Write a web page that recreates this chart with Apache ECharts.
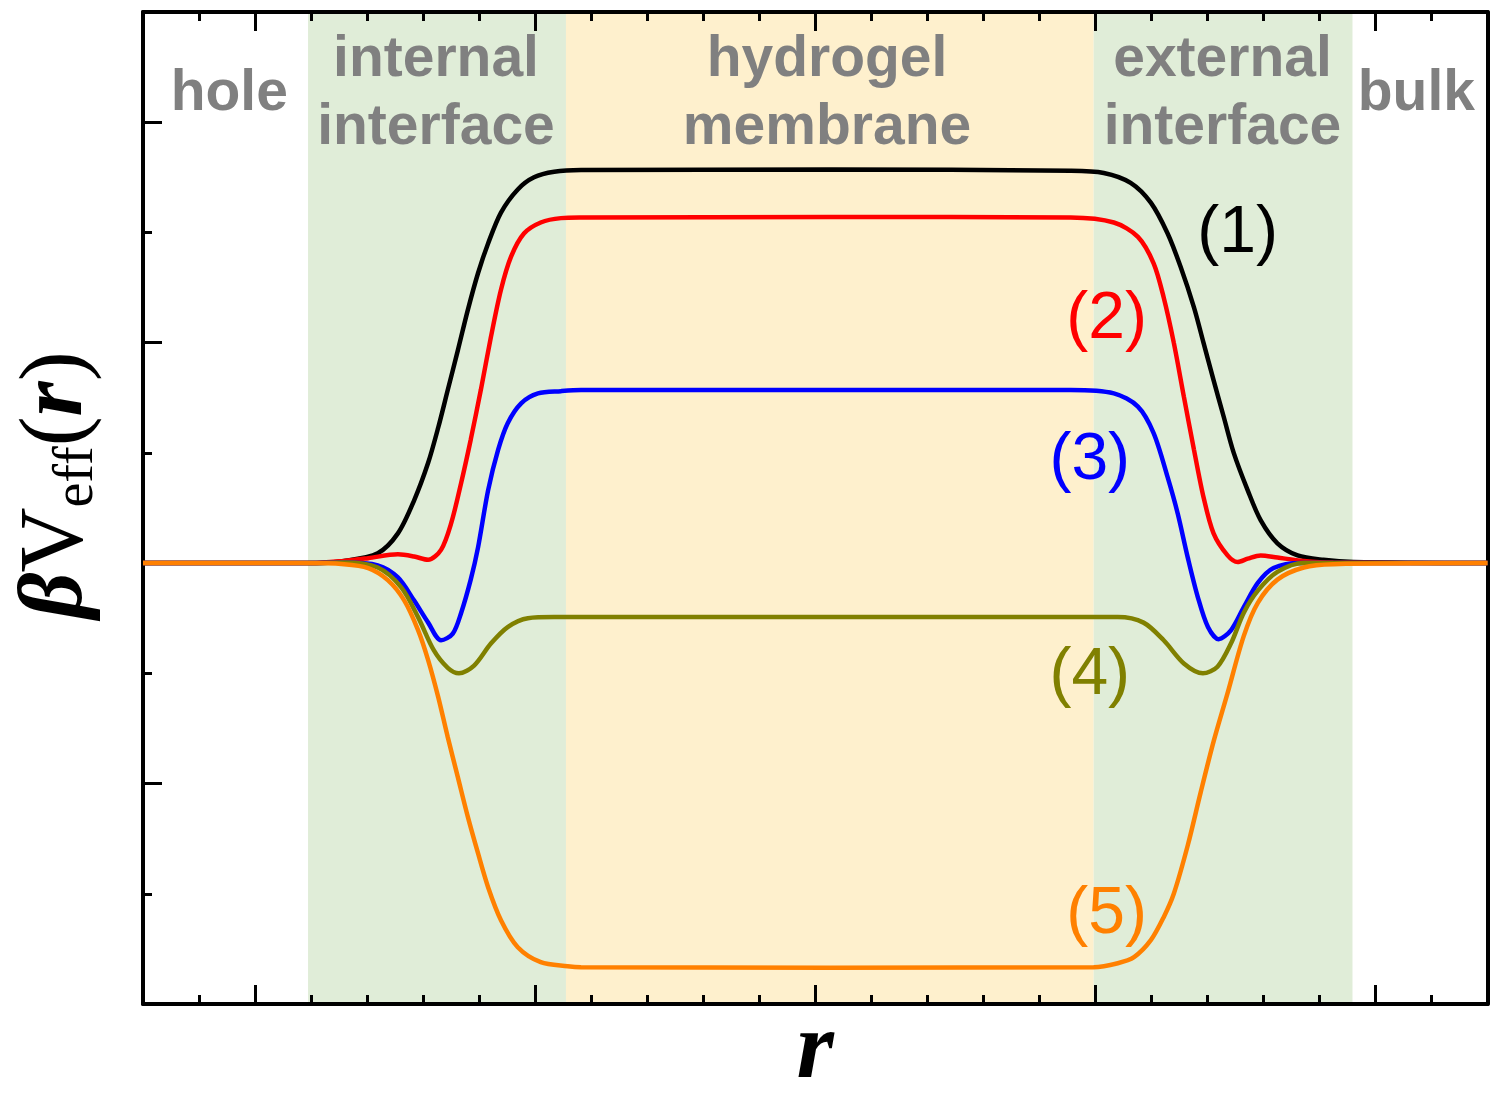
<!DOCTYPE html>
<html>
<head>
<meta charset="utf-8">
<script src="https://cdn.jsdelivr.net/npm/echarts@6/dist/echarts.min.js"></script>
<style>html,body{margin:0;padding:0;background:#fff}#c{width:1500px;height:1093px}</style>
</head>
<body>
<div id="c"></div>
<script>
// ---- data (x in minor-tick units of r, y in units of the left minor tick) ----
const curve1 = [[-2,0],[1.0,0],[1.59,0.02],[2.19,0.09],[2.55,0.27],[2.84,0.57],[3.09,0.91],[3.27,1.23],[3.44,1.57],[3.62,1.93],[3.80,2.30],[3.98,2.63],[4.16,2.90],[4.39,3.18],[4.69,3.39],[4.98,3.50],[5.34,3.55],[5.82,3.566],[10.28,3.57],[14.56,3.56],[15.15,3.54],[15.63,3.45],[15.99,3.27],[16.29,2.99],[16.52,2.69],[16.76,2.32],[16.93,2.00],[17.11,1.66],[17.29,1.33],[17.47,1.00],[17.72,0.66],[17.95,0.39],[18.25,0.18],[18.61,0.07],[19.07,0.03],[19.61,0.01],[22,0]];
const curve2 = [[-2,0],[1.0,0],[1.59,0.02],[2.02,0.045],[2.55,0.08],[2.84,0.06],[3.09,0.03],[3.32,0.12],[3.50,0.36],[3.68,0.73],[3.85,1.12],[4.03,1.57],[4.21,2.05],[4.39,2.48],[4.57,2.78],[4.80,2.99],[5.10,3.09],[5.46,3.13],[5.82,3.135],[10.28,3.14],[14.56,3.135],[15.33,3.09],[15.76,2.96],[16.04,2.72],[16.22,2.41],[16.40,2.00],[16.58,1.51],[16.76,1.03],[16.93,0.60],[17.11,0.27],[17.36,0.07],[17.54,0.01],[17.72,0.04],[17.95,0.07],[18.25,0.05],[18.72,0.02],[19.25,0.005],[22,0]];
const curve3 = [[-2,0],[1.0,0],[1.59,0.005],[2.19,-0.02],[2.55,-0.13],[2.84,-0.34],[3.09,-0.54],[3.32,-0.70],[3.53,-0.64],[3.68,-0.45],[3.85,-0.15],[3.98,0.14],[4.16,0.66],[4.34,1.03],[4.51,1.27],[4.75,1.45],[5.05,1.54],[5.46,1.56],[5.82,1.57],[10.28,1.57],[14.56,1.57],[15.33,1.54],[15.76,1.42],[16.04,1.18],[16.29,0.78],[16.47,0.45],[16.65,0.05],[16.83,-0.31],[17.01,-0.58],[17.20,-0.69],[17.42,-0.61],[17.65,-0.40],[17.90,-0.18],[18.18,-0.045],[18.67,0],[22,0]];
const curve4 = [[-2,0],[1.0,0],[1.59,0.005],[2.19,-0.04],[2.61,-0.22],[2.91,-0.49],[3.19,-0.79],[3.44,-0.95],[3.64,-1.00],[3.91,-0.93],[4.21,-0.73],[4.51,-0.58],[4.87,-0.50],[5.34,-0.49],[5.82,-0.49],[10.28,-0.49],[14.20,-0.49],[15.40,-0.49],[15.86,-0.54],[16.22,-0.70],[16.58,-0.91],[16.92,-1.00],[17.18,-0.94],[17.42,-0.73],[17.65,-0.45],[17.90,-0.25],[18.25,-0.08],[18.72,0],[22,0]];
const curve5 = [[-2,0],[0.82,0],[1.59,-0.01],[2.02,-0.045],[2.37,-0.154],[2.66,-0.336],[2.91,-0.608],[3.09,-0.880],[3.27,-1.216],[3.44,-1.579],[3.62,-1.942],[3.80,-2.305],[3.98,-2.632],[4.16,-2.940],[4.39,-3.240],[4.69,-3.485],[5.10,-3.621],[5.58,-3.657],[5.82,-3.666],[10.28,-3.67],[14.97,-3.666],[15.40,-3.630],[15.69,-3.575],[15.99,-3.421],[16.22,-3.212],[16.40,-3.0],[16.65,-2.56],[16.88,-2.08],[17.11,-1.62],[17.36,-1.18],[17.65,-0.66],[17.90,-0.36],[18.25,-0.15],[18.72,-0.04],[19.25,-0.01],[22,0]];

const curveNames = ['(1)','(2)','(3)','(4)','(5)'];
const curveLabelPos = [[17.54,2.99],[15.20,2.21],[14.90,0.93],[14.90,-1.02],[15.20,-3.19]];
const regionNames = ['hole','internal\ninterface','hydrogel\nmembrane','external\ninterface','bulk'];
const regionLabelX = [-0.46,3.23,10.21,17.27,20.73];
const regionLabelY = 4.25;
const bandEdges = [0.946,5.55,14.97,19.59];
const xRange = [-2,22];
const yRange = [-4,5];
const xMajorTicks = [0,5,10,15,20];
const yMajorTicks = [-2,0,2,4];
const yMinorTicks = [-3,-1,1,3];

// ---- styles ----
const curveColors = ['#000000','#ff0000','#0000ff','#808000','#ff8000'];
const green = '#e0edd8', yellow = '#fef0cd';
const curves = [curve1,curve2,curve3,curve4,curve5];

const chart = echarts.init(document.getElementById('c'), null, {renderer:'canvas'});

function xAx(pos, major, show){
  const o = {type:'value', min:xRange[0], max:xRange[1], position:pos, z:2,
    axisLine:{show:show, onZero:false, lineStyle:{color:'#000', width:4}},
    axisTick:{show:true, inside:true, length: major?19:9, lineStyle:{color:'#000', width:3}},
    axisLabel:{show:false}, splitLine:{show:false}};
  if (major) o.axisTick.customValues = xMajorTicks; else o.interval = 1;
  return o;
}
const xAxes = [xAx('bottom',true,true), xAx('bottom',false,false), xAx('top',true,true), xAx('top',false,false)];
xAxes[0].name = 'r';
xAxes[0].nameLocation = 'middle';
xAxes[0].nameGap = 0;
xAxes[0].nameTextStyle = {fontFamily:'Liberation Serif', fontStyle:'italic', fontWeight:'bold', fontSize:96, lineHeight:96, color:'#000'};

function yAx(pos, ticks, len, showLine){
  return {type:'value', min:yRange[0], max:yRange[1], position:pos, z:2,
    axisLine:{show:showLine, onZero:false, lineStyle:{color:'#000', width:4}},
    axisTick:{show: ticks!==null, inside:true, length:len, customValues: ticks||undefined, lineStyle:{color:'#000', width:3}},
    axisLabel:{show:false}, splitLine:{show:false}};
}
const yAxes = [yAx('left', yMajorTicks, 19, true), yAx('left', yMinorTicks, 9, false), yAx('right', null, 0, true)];
yAxes[0].name = '{b|β}{v|V}{s|eff}{p|(}{r|r}{p|)}';
yAxes[0].nameLocation = 'middle';
yAxes[0].nameRotate = 90;
yAxes[0].nameGap = 38;
yAxes[0].nameTextStyle = {
  padding:[0,0,0,46],
  rich:{
    b:{fontFamily:'Liberation Serif', fontStyle:'italic', fontWeight:'bold', fontSize:90, lineHeight:94, color:'#000'},
    v:{fontFamily:'Liberation Serif', fontSize:90, lineHeight:94, color:'#000'},
    s:{fontFamily:'Liberation Serif', fontSize:56, lineHeight:34, verticalAlign:'bottom', color:'#000'},
    p:{fontFamily:'Liberation Serif', fontSize:90, lineHeight:94, color:'#000'},
    r:{fontFamily:'Liberation Serif', fontStyle:'italic', fontWeight:'bold', fontSize:90, lineHeight:94, color:'#000'}
  }
};

const series = [];
// background bands
series.push({type:'line', data:[], silent:true, z:0,
  markArea:{silent:true, z:1, label:{show:false},
    data:[
      [{xAxis:bandEdges[0], itemStyle:{color:green}},{xAxis:bandEdges[1]}],
      [{xAxis:bandEdges[1], itemStyle:{color:yellow}},{xAxis:bandEdges[2]}],
      [{xAxis:bandEdges[2], itemStyle:{color:green}},{xAxis:bandEdges[3]}]
    ]}});
curves.forEach((c,i)=>{
  series.push({type:'line', name:curveNames[i], data:c, showSymbol:false, symbol:'none',
    smooth:0.3, z:3+i,
    lineStyle:{color:curveColors[i], width:4.5}, silent:true, animation:false});
});
// curve labels
series.push({type:'scatter', symbolSize:1, z:10, silent:true,
  itemStyle:{color:'rgba(0,0,0,0)', opacity:1},
  data: curveLabelPos.map((p,i)=>({value:p, label:{show:true, position:'inside', formatter:curveNames[i], opacity:1,
    textBorderWidth:0, fontFamily:'Liberation Sans', fontSize:66, color:curveColors[i]}}))});
// region labels
series.push({type:'scatter', symbolSize:1, z:10, silent:true,
  itemStyle:{color:'rgba(0,0,0,0)', opacity:1},
  data: regionNames.map((n,i)=>({value:[regionLabelX[i], regionLabelY], label:{show:true, position:'inside', formatter:n, opacity:1,
    textBorderWidth:0, fontFamily:'Liberation Sans', fontWeight:'bold', fontSize:57, lineHeight:68, color:'#808080', align:'center'}}))});

chart.setOption({
  animation:false,
  backgroundColor:'#fff',
  grid:{left:143, right:12.5, top:12, bottom:89, containLabel:false, outerBoundsMode:'none'},
  xAxis:xAxes,
  yAxis:yAxes,
  series:series
});
</script>
</body>
</html>
